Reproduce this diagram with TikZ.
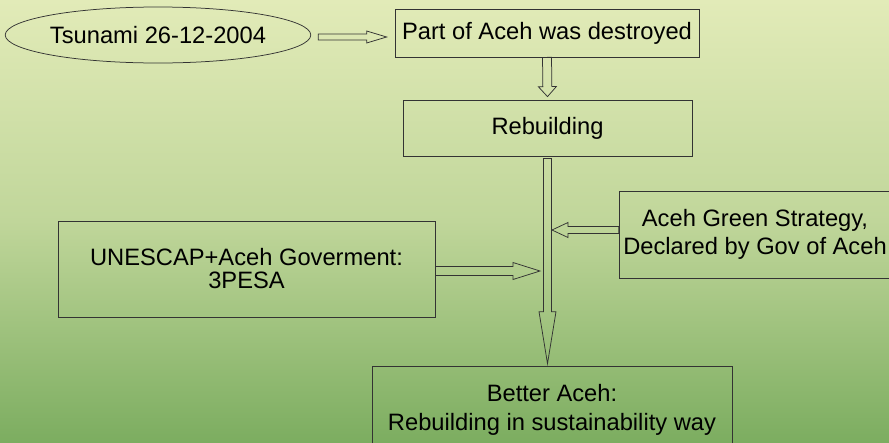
\documentclass[tikz,border=0pt]{standalone}
\usepackage{fontspec}
\setmainfont{Liberation Sans}
\usetikzlibrary{shapes.geometric,calc}

\definecolor{bgtop}{RGB}{226,235,184}
\definecolor{bgmid}{RGB}{192,214,154}
\definecolor{bgbot}{RGB}{124,173,96}

\tikzset{
  box/.style={draw=black!80, line width=0.75pt, inner sep=0pt, align=center,
    font=\fontsize{23.7}{28.4}\selectfont},
  oval/.style={box, ellipse},
  arrowline/.style={draw=black!80, line width=0.75pt, line join=miter},
}

% hollow block arrow: #1 from, #2 to, #3 half shaft, #4 half head, #5 head length
\newcommand{\blockarrow}[5]{
  \draw[arrowline] let \p1=#1, \p2=#2,
      \n1={atan2(\y2-\y1,\x2-\x1)}, \n2={veclen(\x2-\x1,\y2-\y1)} in
    [shift={(\p1)}, rotate=\n1]
    (0pt,-#3) -- (\n2*1pt-#5,-#3) -- (\n2*1pt-#5,-#4) -- (\n2*1pt,0pt)
    -- (\n2*1pt-#5,#4) -- (\n2*1pt-#5,#3) -- (0pt,#3) -- cycle;
}

\begin{document}
\begin{tikzpicture}[x=1pt,y=-1pt]
  \useasboundingbox (0,0) rectangle (889,442);
  \shade[top color=bgtop, bottom color=bgbot, middle color=bgmid] (0,0) rectangle (889,442);

  \node[oval, minimum width=296pt, minimum height=56pt] (tsu) at (158,35) {Tsunami 26-12-2004};
  \node[box, minimum width=304pt, minimum height=48pt] (part) at (547,33) {Part of Aceh was destroyed};
  \node[box, minimum width=289pt, minimum height=56pt] (rebuild) at (547.5,128) {Rebuilding};
  \node[box, minimum width=272pt, minimum height=87pt] (green) at (755,234.5)
    {Aceh Green Strategy,\\Declared by Gov of Aceh};
  \node[box, minimum width=377pt, minimum height=96pt, font=\fontsize{23.7}{23}\selectfont]
    (unescap) at (246.5,269) {UNESCAP+Aceh Goverment:\\3PESA};
  \node[box, minimum width=360pt, minimum height=88pt] (better) at (552,410)
    {Better Aceh:\\Rebuilding in sustainability way};

  % where the side arrows meet the main shaft
  \coordinate (tsuout) at ([shift={(7pt,-2pt)}]tsu.east);
  \coordinate (gout) at ([yshift=4.5pt]green.west);
  \coordinate (gin) at ([xshift=4.5pt]rebuild.south |- gout);
  \coordinate (uout) at ([yshift=-2pt]unescap.east);
  \coordinate (uin) at ([xshift=-7.5pt]rebuild.south |- uout);

  \blockarrow{(tsuout)}{([xshift=-8pt]part.west |- tsuout)}{3pt}{6pt}{20pt}
  \blockarrow{(part.south)}{([yshift=3pt]rebuild.north)}{4.5pt}{9pt}{10pt}
  \blockarrow{([yshift=-2pt]rebuild.south)}{([yshift=2pt]better.north -| rebuild.south)}{4pt}{8.5pt}{52pt}
  \blockarrow{(gout)}{(gin)}{3.5pt}{7.5pt}{16pt}
  \blockarrow{(uout)}{(uin)}{4.5pt}{8.5pt}{27pt}
\end{tikzpicture}
\end{document}
